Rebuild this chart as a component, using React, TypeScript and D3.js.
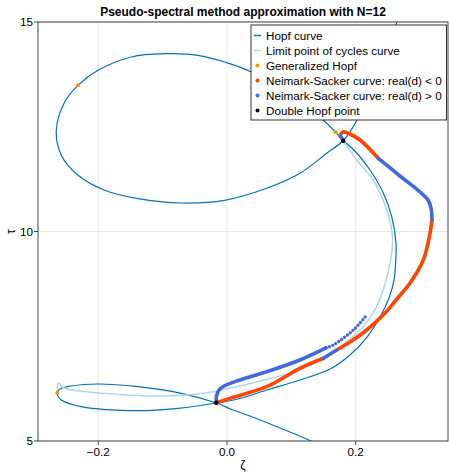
import React, { useRef, useEffect } from 'react';
import * as d3 from 'd3';

type Pt = [number, number];

// Hopf curve (ζ, τ), traced in order
const hopfCurve: Pt[] = [
  [0.1445, 4.881], [0.1305, 5.0], [0.0824, 5.31], [0.0357, 5.597], [0.0093, 5.74], [-0.0163, 5.907],
  [-0.071, 6.138], [-0.1383, 6.296], [-0.2005, 6.36], [-0.242, 6.313], [-0.2595, 6.241], [-0.2637, 6.146],
  [-0.2618, 6.05], [-0.2575, 5.979], [-0.2264, 5.819], [-0.1383, 5.723], [-0.0761, 5.78], [-0.0163, 5.907],
  [0.0202, 6.014], [0.0617, 6.217], [0.1134, 6.456], [0.1601, 6.718], [0.1911, 7.053], [0.2176, 7.482],
  [0.2378, 7.959], [0.2517, 8.413], [0.2595, 8.842], [0.2622, 9.32], [0.2626, 9.726], [0.2559, 10.353],
  [0.2429, 10.919], [0.2222, 11.468], [0.2016, 11.874], [0.1807, 12.172], [0.1523, 12.621], [0.0979, 13.21],
  [0.0378, 13.807], [-0.0036, 14.045], [-0.0451, 14.205], [-0.0968, 14.243], [-0.1487, 14.165],
  [-0.2005, 13.847], [-0.2315, 13.489], [-0.2522, 13.091], [-0.2653, 12.415], [-0.2575, 11.819],
  [-0.2315, 11.341], [-0.1901, 10.983], [-0.1383, 10.783], [-0.071, 10.68], [-0.0036, 10.745],
  [0.0617, 11.031], [0.1134, 11.389], [0.1549, 11.866], [0.1807, 12.172], [0.202, 12.661], [0.2642, 15.0],
  [0.2766, 15.406],
];

// Limit point of cycles curve
const lpcCurve: Pt[] = [
  [-0.2637, 6.153], [-0.2618, 6.384], [-0.2533, 6.265], [-0.218, 6.177], [-0.1663, 6.11], [-0.115, 6.074],
  [-0.0626, 6.098], [-0.0218, 6.177], [0.0202, 6.313], [0.0668, 6.492], [0.1134, 6.695], [0.1647, 7.126],
  [0.2067, 7.649], [0.2326, 8.205], [0.2471, 8.842], [0.2549, 9.368], [0.2572, 9.876], [0.2482, 10.513],
  [0.2269, 11.229], [0.2016, 11.706], [0.1807, 12.167],
];

// Neimark-Sacker curve, pieces where real(d) < 0
const nsNegSegments: Pt[][] = [
  [[0.1756, 12.291], [0.1803, 12.375], [0.1911, 12.327], [0.2067, 12.184], [0.2351, 11.747]],
  [[0.3186, 10.274], [0.3155, 9.957], [0.305, 9.32], [0.2844, 8.771], [0.2626, 8.365], [0.2471, 8.079],
    [0.2171, 7.649], [0.1911, 7.363], [0.1705, 7.172]],
  [[0.1497, 6.974], [0.1134, 6.735], [0.0617, 6.296], [0.0098, 6.043], [-0.0166, 5.914]],
];

// Neimark-Sacker curve, pieces where real(d) > 0
const nsPosSegments: Pt[][] = [
  [[0.1807, 12.167], [0.1756, 12.291]],
  [[0.2351, 11.747], [0.2688, 11.325], [0.2999, 10.943], [0.3124, 10.752], [0.317, 10.561], [0.3186, 10.274]],
  [[0.1705, 7.172], [0.1497, 6.974]],
  [[-0.0166, 5.914], [-0.0163, 6.074], [-0.0124, 6.217], [-0.0031, 6.325], [0.0202, 6.456], [0.0617, 6.654],
    [0.1134, 6.933], [0.1538, 7.22]],
];
// sparser tail of the real(d) > 0 branch
const nsPosTail: Pt[] = [[0.1538, 7.22], [0.1652, 7.291], [0.1963, 7.649], [0.2171, 8.007]];

const generalizedHopf: Pt[] = [[-0.2315, 13.489], [-0.2637, 6.153], [0.1689, 12.368]];
const doubleHopf: Pt[] = [[0.1807, 12.167], [-0.0166, 5.914]];

const xTicks = [-0.2, 0, 0.2];
const yTicks = [5, 10, 15];
const legendItems = [
  { label: 'Hopf curve', kind: 'line', color: '#0072b2' },
  { label: 'Limit point of cycles curve', kind: 'line', color: '#add8e6' },
  { label: 'Generalized Hopf', kind: 'dot', color: '#e69f00' },
  { label: 'Neimark-Sacker curve: real(d) < 0', kind: 'dot', color: '#ff4500' },
  { label: 'Neimark-Sacker curve: real(d) > 0', kind: 'dot', color: '#4169e1' },
  { label: 'Double Hopf point', kind: 'dot', color: '#000000' },
];

const font = '"Liberation Sans", Arial, sans-serif';
const fs = 11.7;

const App = () => {
  const svgRef = useRef<SVGSVGElement>(null);

  useEffect(() => {
    if (!svgRef.current) return;
    const svg = d3.select(svgRef.current);
    svg.selectAll('*').remove();

    const width = 449;
    const height = 474;
    const m = { left: 38, right: 1, top: 22, bottom: 33 };

    const x = d3.scaleLinear().domain([-0.2937, 0.3434]).range([m.left, width - m.right]);
    const y = d3.scaleLinear().domain([5, 15]).range([height - m.bottom, m.top]);

    const line = d3.line<Pt>()
      .x(d => x(d[0]))
      .y(d => y(d[1]))
      .curve(d3.curveCatmullRom.alpha(0.5));

    svg.append('defs').append('clipPath').attr('id', 'plot-clip')
      .append('rect')
      .attr('x', m.left).attr('y', m.top)
      .attr('width', width - m.left - m.right).attr('height', height - m.top - m.bottom);

    // grid
    const grid = svg.append('g');
    xTicks.forEach(t => {
      grid.append('line')
        .attr('x1', x(t)).attr('x2', x(t))
        .attr('y1', m.top).attr('y2', height - m.bottom)
        .attr('stroke', '#e6e6e6').attr('stroke-width', 1);
    });
    yTicks.forEach(t => {
      grid.append('line')
        .attr('x1', m.left).attr('x2', width - m.right)
        .attr('y1', y(t)).attr('y2', y(t))
        .attr('stroke', '#e6e6e6').attr('stroke-width', 1);
    });

    const plot = svg.append('g').attr('clip-path', 'url(#plot-clip)');

    plot.append('path').attr('d', line(hopfCurve))
      .attr('fill', 'none').attr('stroke', '#0072b2').attr('stroke-width', 1.2);

    plot.append('path').attr('d', line(lpcCurve))
      .attr('fill', 'none').attr('stroke', '#add8e6').attr('stroke-width', 1.5);

    plot.selectAll('.gh').data(generalizedHopf).enter().append('circle')
      .attr('cx', d => x(d[0])).attr('cy', d => y(d[1])).attr('r', 2)
      .attr('fill', '#e69f00');

    nsNegSegments.forEach(seg => {
      plot.append('path').attr('d', line(seg))
        .attr('fill', 'none').attr('stroke', '#ff4500').attr('stroke-width', 3.6)
        .attr('stroke-linecap', 'round');
    });
    nsPosSegments.forEach(seg => {
      plot.append('path').attr('d', line(seg))
        .attr('fill', 'none').attr('stroke', '#4169e1').attr('stroke-width', 3.6)
        .attr('stroke-linecap', 'round');
    });
    plot.append('path').attr('d', line(nsPosTail))
      .attr('fill', 'none').attr('stroke', '#4169e1').attr('stroke-width', 3.4)
      .attr('stroke-linecap', 'round').attr('stroke-dasharray', '0 3.6');

    plot.selectAll('.dh').data(doubleHopf).enter().append('circle')
      .attr('cx', d => x(d[0])).attr('cy', d => y(d[1])).attr('r', 2.2)
      .attr('fill', '#000');

    // frame
    svg.append('rect')
      .attr('x', m.left).attr('y', m.top)
      .attr('width', width - m.left - m.right).attr('height', height - m.top - m.bottom)
      .attr('fill', 'none').attr('stroke', '#444').attr('stroke-width', 1);

    // ticks + labels
    xTicks.forEach(t => {
      svg.append('line')
        .attr('x1', x(t)).attr('x2', x(t))
        .attr('y1', height - m.bottom).attr('y2', height - m.bottom + 4)
        .attr('stroke', '#444');
      svg.append('text')
        .attr('x', x(t)).attr('y', 456)
        .attr('text-anchor', 'middle')
        .attr('font-family', font).attr('font-size', fs)
        .text(d3.format('.1f')(t).replace('-', '\u2212'));
    });
    yTicks.forEach(t => {
      svg.append('line')
        .attr('x1', m.left - 4).attr('x2', m.left)
        .attr('y1', y(t)).attr('y2', y(t))
        .attr('stroke', '#444');
      svg.append('text')
        .attr('x', m.left - 5).attr('y', y(t))
        .attr('dy', '0.35em')
        .attr('text-anchor', 'end')
        .attr('font-family', font).attr('font-size', fs)
        .text(t);
    });

    // axis labels
    svg.append('text')
      .attr('x', (m.left + width - m.right) / 2).attr('y', 469)
      .attr('text-anchor', 'middle')
      .attr('font-family', font).attr('font-size', 12)
      .text('ζ');
    svg.append('text')
      .attr('transform', `translate(15, ${y(10)}) rotate(-90)`)
      .attr('text-anchor', 'middle')
      .attr('font-family', font).attr('font-size', 12)
      .text('τ');

    // title
    svg.append('text')
      .attr('x', (m.left + width - m.right) / 2).attr('y', 16)
      .attr('text-anchor', 'middle')
      .attr('font-family', font).attr('font-size', 12).attr('font-weight', 'bold')
      .text('Pseudo-spectral method approximation with N=12');

    // legend
    const lg = svg.append('g');
    lg.append('rect')
      .attr('x', 251).attr('y', 25).attr('width', 195.5).attr('height', 95)
      .attr('fill', '#fff').attr('stroke', '#333').attr('stroke-width', 1);
    legendItems.forEach((item, i) => {
      const cy = 35.5 + i * 15;
      if (item.kind === 'line') {
        lg.append('line')
          .attr('x1', 254).attr('x2', 261).attr('y1', cy).attr('y2', cy)
          .attr('stroke', item.color).attr('stroke-width', 1.5);
      } else {
        lg.append('circle').attr('cx', 257.5).attr('cy', cy).attr('r', 2)
          .attr('fill', item.color);
      }
      lg.append('text')
        .attr('x', 266).attr('y', cy).attr('dy', '0.35em')
        .attr('font-family', font).attr('font-size', fs)
        .text(item.label);
    });
  }, []);

  return (
    <svg ref={svgRef} width={449} height={474}
      style={{ position: 'absolute', left: 0, top: 0, background: '#fff' }} />
  );
};

export default App;
